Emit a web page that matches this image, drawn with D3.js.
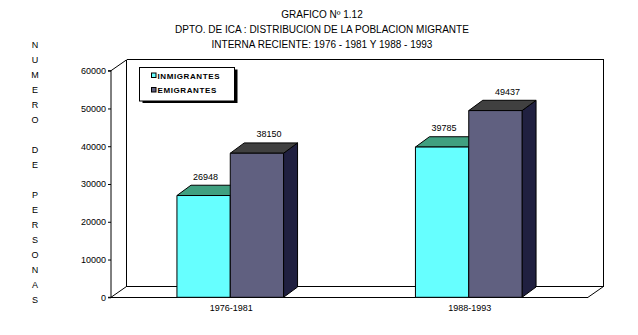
<!DOCTYPE html>
<html>
<head>
<meta charset="utf-8">
<script src="https://cdn.jsdelivr.net/npm/d3@7"></script>
<style>
  html, body { margin: 0; padding: 0; background: #fff; }
  svg { display: block; }
  text { font-family: "Liberation Sans", Arial, sans-serif; fill: #000; }
</style>
</head>
<body>
<svg id="chart" width="638" height="335"></svg>
<script>
// Data
const periods = ["1976-1981", "1988-1993"];
const seriesNames = ["INMIGRANTES", "EMIGRANTES"];
const inmigrantes = [26948, 39785];
const emigrantes = [38150, 49437];
const yTicks = [0, 10000, 20000, 30000, 40000, 50000, 60000];
const titleLines = [
  "GRAFICO Nº 1.12",
  "DPTO. DE ICA : DISTRIBUCION DE LA POBLACION MIGRANTE",
  "INTERNA RECIENTE: 1976 - 1981 Y 1988 - 1993"
];
const yAxisTitle = "NUMERO DE PERSONAS";

const seriesValues = [inmigrantes, emigrantes];
const palette = [
  { front: "#66FFFF", top: "#40A080", side: "#2F8F80" },
  { front: "#606080", top: "#404040", side: "#202040" }
];

const svg = d3.select("#chart");

// Plot geometry
const x0 = 111, x1 = 588, yBottom = 297.3, yTop = 70.7;
const wallDx = 15.5, wallDy = -10.8;
const barDx = 14, barDy = -10.3;

const x = d3.scaleBand().domain(periods).range([x0, x1]).padding(0);
const groupW = x.bandwidth() * 0.447;
const xs = d3.scaleBand().domain(seriesNames).range([0, groupW]).padding(0);
const y = d3.scaleLinear().domain([0, 60000]).range([yBottom, yTop]);

const line = (g, a, b, c, d) => g.append("line")
  .attr("x1", a).attr("y1", b).attr("x2", c).attr("y2", d)
  .attr("stroke", "#000").attr("stroke-width", 1);

// Walls and floor
const frame = svg.append("g").attr("shape-rendering", "crispEdges");
const bx0 = x0 + wallDx, bx1 = x1 + wallDx, byT = yTop + wallDy, byB = yBottom + wallDy;
line(frame, bx0, byT, bx1, byT);
line(frame, bx0, byT, bx0, byB);
line(frame, bx1, byT, bx1, byB);
line(frame, bx0, byB, bx1, byB);
line(frame, x0, yBottom, x1, yBottom);
const diag = svg.append("g");
line(diag, x0, yBottom, bx0, byB);
line(diag, x1, yBottom, bx1, byB);
line(diag, x0, yTop, bx0, byT);

// Value axis
const axis = svg.append("g").attr("transform", `translate(${x0},0)`)
  .call(d3.axisLeft(y).tickValues(yTicks).tickSize(3).tickPadding(2).tickFormat(d3.format("d")));
axis.select(".domain").attr("stroke", "#000").attr("d", `M-3,${yTop}H0V${yBottom}H-3`);
axis.selectAll(".tick line").attr("stroke", "#000");
axis.selectAll(".tick text").attr("font-size", 9).attr("font-family", "Liberation Sans, Arial, sans-serif").attr("fill", "#000");

// Bars
const labelShift = [2, 12];
const bars = svg.append("g");
periods.forEach((p, i) => {
  const gx = x(p) + (x.bandwidth() - groupW) / 2;
  seriesNames.forEach((s, j) => {
    const v = seriesValues[j][i];
    const left = gx + xs(s), w = xs.bandwidth();
    const top = y(v), bot = y(0);
    const c = palette[j];
    const g = bars.append("g").attr("stroke", "#000").attr("stroke-width", 1).attr("stroke-linejoin", "round");
    g.append("path").attr("fill", c.side)
      .attr("d", `M${left + w},${top}L${left + w + barDx},${top + barDy}L${left + w + barDx},${bot + barDy}L${left + w},${bot}Z`);
    g.append("path").attr("fill", c.top)
      .attr("d", `M${left},${top}L${left + barDx},${top + barDy}L${left + w + barDx},${top + barDy}L${left + w},${top}Z`);
    g.append("rect").attr("fill", c.front)
      .attr("x", left).attr("y", top).attr("width", w).attr("height", bot - top);
    bars.append("text")
      .attr("x", left + w / 2 + labelShift[j]).attr("y", top + barDy - 5.5)
      .attr("text-anchor", "middle").attr("font-size", 9).text(v);
  });
});

// Category labels
svg.append("g").selectAll("text").data(periods).join("text")
  .attr("x", d => x(d) + x.bandwidth() / 2 + 1)
  .attr("y", 310.5).attr("text-anchor", "middle").attr("font-size", 9).text(d => d);

// Titles
svg.append("g").selectAll("text").data(titleLines).join("text")
  .attr("x", 322).attr("y", (d, i) => 18 + i * 15)
  .attr("text-anchor", "middle").attr("font-size", 10).text(d => d);

// Vertical axis title, one letter per row
svg.append("g").selectAll("text").data(yAxisTitle.split("")).join("text")
  .attr("x", 35).attr("y", (d, i) => 47.5 + i * 15)
  .attr("text-anchor", "middle").attr("font-size", 9).text(d => d);

// Legend
const lg = svg.append("g");
lg.append("rect").attr("x", 142.5).attr("y", 69.5).attr("width", 95).attr("height", 33.5).attr("fill", "#000");
lg.append("rect").attr("x", 139.5).attr("y", 67.5).attr("width", 95).attr("height", 33.5)
  .attr("fill", "#fff").attr("stroke", "#000").attr("stroke-width", 1);
seriesNames.forEach((s, j) => {
  const cy = 75.5 + j * 14.5;
  lg.append("rect").attr("x", 151.5).attr("y", cy - 2.5).attr("width", 4.5).attr("height", 4.5)
    .attr("fill", palette[j].front).attr("stroke", "#000").attr("stroke-width", 1);
  lg.append("text").attr("x", 157.5).attr("y", cy + 3).attr("font-size", 8)
    .attr("font-weight", "bold").attr("letter-spacing", 0.6).text(s);
});
</script>
</body>
</html>
